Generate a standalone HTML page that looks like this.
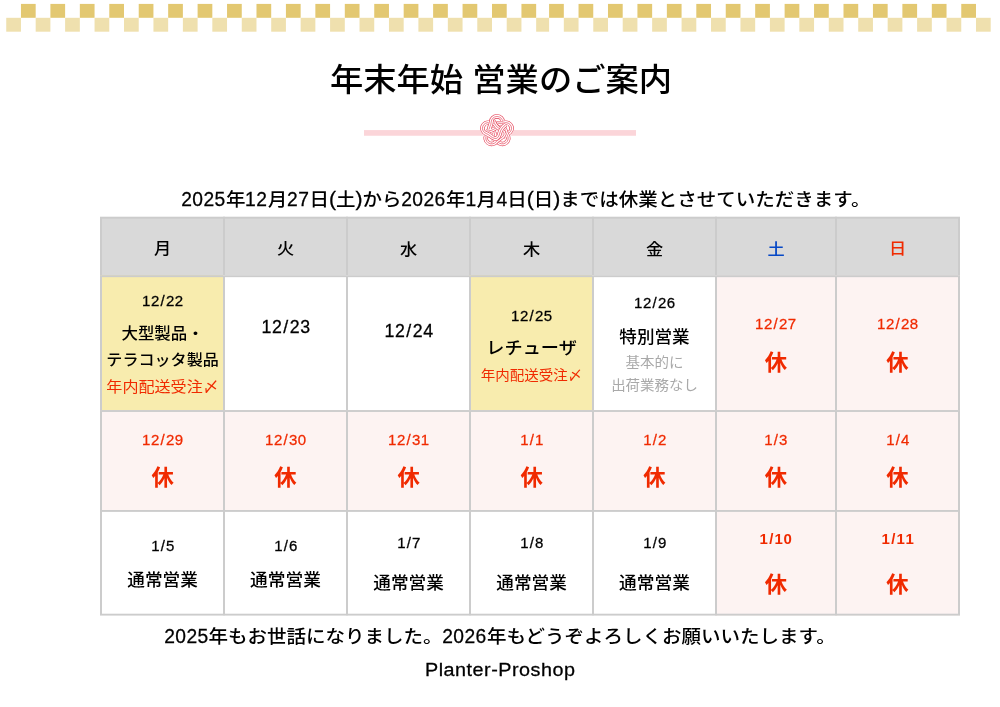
<!DOCTYPE html>
<html lang="ja">
<head>
<meta charset="utf-8">
<title>年末年始 営業のご案内</title>
<style>
html,body{margin:0;padding:0;background:#fff;}
body{width:1000px;height:707px;position:relative;overflow:hidden;font-family:"Liberation Sans", "Noto Sans CJK JP", sans-serif;color:#000;}
#page{position:absolute;left:0;top:0;width:1000px;height:750px;transform-origin:0 0;transform:scaleY(0.9427);}
.checker{position:absolute;left:0;top:0;}
.abs{position:absolute;white-space:nowrap;font-weight:500;line-height:30px;}
.title{left:1px;width:1000px;text-align:center;top:61.53px;font-size:33.3px;line-height:48px;}
.rule{position:absolute;left:364px;top:137.69px;width:272px;height:6px;background:#fbd5d9;}
.knot{position:absolute;left:474.9px;top:116.70px;transform:scaleY(1.03);}
.lead{left:181.5px;top:195.71px;font-size:19.5px;}
.foot1{left:164.1px;top:660.34px;font-size:19.5px;}
.foot2{left:425px;top:694.81px;font-size:19.8px;letter-spacing:0.5px;font-weight:400;-webkit-text-stroke:0.3px #000;}
.nu{display:inline-block;font-size:1.085em;letter-spacing:0.021em;transform:scaleX(0.91);-webkit-text-stroke:0.3px #000;}
.pa{font-size:1.085em;-webkit-text-stroke:0.3px #000;}
.cell{position:absolute;box-sizing:border-box;border:2px solid #cccccc;background:#fff;}
.cell.hd{background:#d9d9d9;}
.cell.yel{background:#f8ecae;}
.cell.pink{background:#fdf3f2;}
.t{position:absolute;left:0;width:100%;text-align:center;white-space:nowrap;font-weight:500;line-height:1.2;}
.sat{color:#0648c6;}
.sun{color:#f02a00;}
.d{font-kerning:none;-webkit-text-stroke:0.3px currentColor;}
.di{display:inline-block;transform:scaleX(0.91);letter-spacing:0.04em;margin-right:-0.04em;}
.s{margin:0 0.04em 0 0.04em;}
.n{font-weight:400;}
.r{font-weight:500;}
.gray{color:#a9a9a9;}
.k{font-weight:700;color:#f02a00;}
.red{color:#f02a00;}
.b{font-weight:700;-webkit-text-stroke:0;}
</style>
</head>
<body>
<div id="page">
<svg class="checker" width="1000" height="40" viewBox="0 0 1000 40"><rect x="6.24" y="18.88" width="14.72" height="14.74" fill="#efe0ae"/><rect x="20.96" y="4.14" width="14.72" height="14.74" fill="#e3c871"/><rect x="35.68" y="18.88" width="14.72" height="14.74" fill="#efe0ae"/><rect x="50.40" y="4.14" width="14.72" height="14.74" fill="#e3c871"/><rect x="65.12" y="18.88" width="14.72" height="14.74" fill="#efe0ae"/><rect x="79.84" y="4.14" width="14.72" height="14.74" fill="#e3c871"/><rect x="94.56" y="18.88" width="14.72" height="14.74" fill="#efe0ae"/><rect x="109.28" y="4.14" width="14.72" height="14.74" fill="#e3c871"/><rect x="124.00" y="18.88" width="14.72" height="14.74" fill="#efe0ae"/><rect x="138.72" y="4.14" width="14.72" height="14.74" fill="#e3c871"/><rect x="153.44" y="18.88" width="14.72" height="14.74" fill="#efe0ae"/><rect x="168.16" y="4.14" width="14.72" height="14.74" fill="#e3c871"/><rect x="182.88" y="18.88" width="14.72" height="14.74" fill="#efe0ae"/><rect x="197.60" y="4.14" width="14.72" height="14.74" fill="#e3c871"/><rect x="212.32" y="18.88" width="14.72" height="14.74" fill="#efe0ae"/><rect x="227.04" y="4.14" width="14.72" height="14.74" fill="#e3c871"/><rect x="241.76" y="18.88" width="14.72" height="14.74" fill="#efe0ae"/><rect x="256.48" y="4.14" width="14.72" height="14.74" fill="#e3c871"/><rect x="271.20" y="18.88" width="14.72" height="14.74" fill="#efe0ae"/><rect x="285.92" y="4.14" width="14.72" height="14.74" fill="#e3c871"/><rect x="300.64" y="18.88" width="14.72" height="14.74" fill="#efe0ae"/><rect x="315.36" y="4.14" width="14.72" height="14.74" fill="#e3c871"/><rect x="330.08" y="18.88" width="14.72" height="14.74" fill="#efe0ae"/><rect x="344.80" y="4.14" width="14.72" height="14.74" fill="#e3c871"/><rect x="359.52" y="18.88" width="14.72" height="14.74" fill="#efe0ae"/><rect x="374.24" y="4.14" width="14.72" height="14.74" fill="#e3c871"/><rect x="388.96" y="18.88" width="14.72" height="14.74" fill="#efe0ae"/><rect x="403.68" y="4.14" width="14.72" height="14.74" fill="#e3c871"/><rect x="418.40" y="18.88" width="14.72" height="14.74" fill="#efe0ae"/><rect x="433.12" y="4.14" width="14.72" height="14.74" fill="#e3c871"/><rect x="447.84" y="18.88" width="14.72" height="14.74" fill="#efe0ae"/><rect x="462.56" y="4.14" width="14.72" height="14.74" fill="#e3c871"/><rect x="477.28" y="18.88" width="14.72" height="14.74" fill="#efe0ae"/><rect x="492.00" y="4.14" width="14.72" height="14.74" fill="#e3c871"/><rect x="506.72" y="18.88" width="14.72" height="14.74" fill="#efe0ae"/><rect x="521.44" y="4.14" width="14.72" height="14.74" fill="#e3c871"/><rect x="536.16" y="18.88" width="12.94" height="14.74" fill="#efe0ae"/><rect x="549.10" y="4.14" width="14.72" height="14.74" fill="#e3c871"/><rect x="563.82" y="18.88" width="14.72" height="14.74" fill="#efe0ae"/><rect x="578.54" y="4.14" width="14.72" height="14.74" fill="#e3c871"/><rect x="593.26" y="18.88" width="14.72" height="14.74" fill="#efe0ae"/><rect x="607.98" y="4.14" width="14.72" height="14.74" fill="#e3c871"/><rect x="622.70" y="18.88" width="14.72" height="14.74" fill="#efe0ae"/><rect x="637.42" y="4.14" width="14.72" height="14.74" fill="#e3c871"/><rect x="652.14" y="18.88" width="14.72" height="14.74" fill="#efe0ae"/><rect x="666.86" y="4.14" width="14.72" height="14.74" fill="#e3c871"/><rect x="681.58" y="18.88" width="14.72" height="14.74" fill="#efe0ae"/><rect x="696.30" y="4.14" width="14.72" height="14.74" fill="#e3c871"/><rect x="711.02" y="18.88" width="14.72" height="14.74" fill="#efe0ae"/><rect x="725.74" y="4.14" width="14.72" height="14.74" fill="#e3c871"/><rect x="740.46" y="18.88" width="14.72" height="14.74" fill="#efe0ae"/><rect x="755.18" y="4.14" width="14.72" height="14.74" fill="#e3c871"/><rect x="769.90" y="18.88" width="14.72" height="14.74" fill="#efe0ae"/><rect x="784.62" y="4.14" width="14.72" height="14.74" fill="#e3c871"/><rect x="799.34" y="18.88" width="14.72" height="14.74" fill="#efe0ae"/><rect x="814.06" y="4.14" width="14.72" height="14.74" fill="#e3c871"/><rect x="828.78" y="18.88" width="14.72" height="14.74" fill="#efe0ae"/><rect x="843.50" y="4.14" width="14.72" height="14.74" fill="#e3c871"/><rect x="858.22" y="18.88" width="14.72" height="14.74" fill="#efe0ae"/><rect x="872.94" y="4.14" width="14.72" height="14.74" fill="#e3c871"/><rect x="887.66" y="18.88" width="14.72" height="14.74" fill="#efe0ae"/><rect x="902.38" y="4.14" width="14.72" height="14.74" fill="#e3c871"/><rect x="917.10" y="18.88" width="14.72" height="14.74" fill="#efe0ae"/><rect x="931.82" y="4.14" width="14.72" height="14.74" fill="#e3c871"/><rect x="946.54" y="18.88" width="14.72" height="14.74" fill="#efe0ae"/><rect x="961.26" y="4.14" width="14.72" height="14.74" fill="#e3c871"/><rect x="975.98" y="18.88" width="14.72" height="14.74" fill="#efe0ae"/></svg>
<div class="abs title">年末年始 営業のご案内</div>
<div class="rule"></div>
<svg class="knot" width="44" height="44" viewBox="-22 -22 44 44"><defs><clipPath id="kc"><rect x="-22" y="-22" width="22" height="20"/></clipPath></defs><g fill="none" stroke-linecap="butt" stroke-linejoin="round"><circle cx="0.00" cy="-9.20" r="8.10" fill="#fff"/><circle cx="8.75" cy="-2.84" r="8.10" fill="#fff"/><circle cx="5.41" cy="7.44" r="8.10" fill="#fff"/><circle cx="-5.41" cy="7.44" r="8.10" fill="#fff"/><circle cx="-8.75" cy="-2.84" r="8.10" fill="#fff"/><circle cx="0" cy="0" r="9.20" fill="#fff"/><g transform="rotate(0)"><path d="M6.3 -5 C6.0 -6.5 5.8 -8 5.8 -9.2 A5.8 5.8 0 0 0 -5.8 -9.2 C-5.8 -6 -8.6 -3 -7.9 0.6 C-7.4 3.2 -4 3.6 -1 3.3 C3 3 6.5 4.5 9 6.4" stroke="#fff" stroke-width="5.2"/><path d="M6.3 -5 C6.0 -6.5 5.8 -8 5.8 -9.2 A5.8 5.8 0 0 0 -5.8 -9.2 C-5.8 -6 -8.6 -3 -7.9 0.6 C-7.4 3.2 -4 3.6 -1 3.3 C3 3 6.5 4.5 9 6.4" stroke="#e43c52" stroke-width="4.6"/><path d="M6.3 -5 C6.0 -6.5 5.8 -8 5.8 -9.2 A5.8 5.8 0 0 0 -5.8 -9.2 C-5.8 -6 -8.6 -3 -7.9 0.6 C-7.4 3.2 -4 3.6 -1 3.3 C3 3 6.5 4.5 9 6.4" stroke="#fff" stroke-width="3.36"/><path d="M6.3 -5 C6.0 -6.5 5.8 -8 5.8 -9.2 A5.8 5.8 0 0 0 -5.8 -9.2 C-5.8 -6 -8.6 -3 -7.9 0.6 C-7.4 3.2 -4 3.6 -1 3.3 C3 3 6.5 4.5 9 6.4" stroke="#e43c52" stroke-width="0.62"/></g><g transform="rotate(72)"><path d="M6.3 -5 C6.0 -6.5 5.8 -8 5.8 -9.2 A5.8 5.8 0 0 0 -5.8 -9.2 C-5.8 -6 -8.6 -3 -7.9 0.6 C-7.4 3.2 -4 3.6 -1 3.3 C3 3 6.5 4.5 9 6.4" stroke="#fff" stroke-width="5.2"/><path d="M6.3 -5 C6.0 -6.5 5.8 -8 5.8 -9.2 A5.8 5.8 0 0 0 -5.8 -9.2 C-5.8 -6 -8.6 -3 -7.9 0.6 C-7.4 3.2 -4 3.6 -1 3.3 C3 3 6.5 4.5 9 6.4" stroke="#e43c52" stroke-width="4.6"/><path d="M6.3 -5 C6.0 -6.5 5.8 -8 5.8 -9.2 A5.8 5.8 0 0 0 -5.8 -9.2 C-5.8 -6 -8.6 -3 -7.9 0.6 C-7.4 3.2 -4 3.6 -1 3.3 C3 3 6.5 4.5 9 6.4" stroke="#fff" stroke-width="3.36"/><path d="M6.3 -5 C6.0 -6.5 5.8 -8 5.8 -9.2 A5.8 5.8 0 0 0 -5.8 -9.2 C-5.8 -6 -8.6 -3 -7.9 0.6 C-7.4 3.2 -4 3.6 -1 3.3 C3 3 6.5 4.5 9 6.4" stroke="#e43c52" stroke-width="0.62"/></g><g transform="rotate(144)"><path d="M6.3 -5 C6.0 -6.5 5.8 -8 5.8 -9.2 A5.8 5.8 0 0 0 -5.8 -9.2 C-5.8 -6 -8.6 -3 -7.9 0.6 C-7.4 3.2 -4 3.6 -1 3.3 C3 3 6.5 4.5 9 6.4" stroke="#fff" stroke-width="5.2"/><path d="M6.3 -5 C6.0 -6.5 5.8 -8 5.8 -9.2 A5.8 5.8 0 0 0 -5.8 -9.2 C-5.8 -6 -8.6 -3 -7.9 0.6 C-7.4 3.2 -4 3.6 -1 3.3 C3 3 6.5 4.5 9 6.4" stroke="#e43c52" stroke-width="4.6"/><path d="M6.3 -5 C6.0 -6.5 5.8 -8 5.8 -9.2 A5.8 5.8 0 0 0 -5.8 -9.2 C-5.8 -6 -8.6 -3 -7.9 0.6 C-7.4 3.2 -4 3.6 -1 3.3 C3 3 6.5 4.5 9 6.4" stroke="#fff" stroke-width="3.36"/><path d="M6.3 -5 C6.0 -6.5 5.8 -8 5.8 -9.2 A5.8 5.8 0 0 0 -5.8 -9.2 C-5.8 -6 -8.6 -3 -7.9 0.6 C-7.4 3.2 -4 3.6 -1 3.3 C3 3 6.5 4.5 9 6.4" stroke="#e43c52" stroke-width="0.62"/></g><g transform="rotate(216)"><path d="M6.3 -5 C6.0 -6.5 5.8 -8 5.8 -9.2 A5.8 5.8 0 0 0 -5.8 -9.2 C-5.8 -6 -8.6 -3 -7.9 0.6 C-7.4 3.2 -4 3.6 -1 3.3 C3 3 6.5 4.5 9 6.4" stroke="#fff" stroke-width="5.2"/><path d="M6.3 -5 C6.0 -6.5 5.8 -8 5.8 -9.2 A5.8 5.8 0 0 0 -5.8 -9.2 C-5.8 -6 -8.6 -3 -7.9 0.6 C-7.4 3.2 -4 3.6 -1 3.3 C3 3 6.5 4.5 9 6.4" stroke="#e43c52" stroke-width="4.6"/><path d="M6.3 -5 C6.0 -6.5 5.8 -8 5.8 -9.2 A5.8 5.8 0 0 0 -5.8 -9.2 C-5.8 -6 -8.6 -3 -7.9 0.6 C-7.4 3.2 -4 3.6 -1 3.3 C3 3 6.5 4.5 9 6.4" stroke="#fff" stroke-width="3.36"/><path d="M6.3 -5 C6.0 -6.5 5.8 -8 5.8 -9.2 A5.8 5.8 0 0 0 -5.8 -9.2 C-5.8 -6 -8.6 -3 -7.9 0.6 C-7.4 3.2 -4 3.6 -1 3.3 C3 3 6.5 4.5 9 6.4" stroke="#e43c52" stroke-width="0.62"/></g><g transform="rotate(288)"><path d="M6.3 -5 C6.0 -6.5 5.8 -8 5.8 -9.2 A5.8 5.8 0 0 0 -5.8 -9.2 C-5.8 -6 -8.6 -3 -7.9 0.6 C-7.4 3.2 -4 3.6 -1 3.3 C3 3 6.5 4.5 9 6.4" stroke="#fff" stroke-width="5.2"/><path d="M6.3 -5 C6.0 -6.5 5.8 -8 5.8 -9.2 A5.8 5.8 0 0 0 -5.8 -9.2 C-5.8 -6 -8.6 -3 -7.9 0.6 C-7.4 3.2 -4 3.6 -1 3.3 C3 3 6.5 4.5 9 6.4" stroke="#e43c52" stroke-width="4.6"/><path d="M6.3 -5 C6.0 -6.5 5.8 -8 5.8 -9.2 A5.8 5.8 0 0 0 -5.8 -9.2 C-5.8 -6 -8.6 -3 -7.9 0.6 C-7.4 3.2 -4 3.6 -1 3.3 C3 3 6.5 4.5 9 6.4" stroke="#fff" stroke-width="3.36"/><path d="M6.3 -5 C6.0 -6.5 5.8 -8 5.8 -9.2 A5.8 5.8 0 0 0 -5.8 -9.2 C-5.8 -6 -8.6 -3 -7.9 0.6 C-7.4 3.2 -4 3.6 -1 3.3 C3 3 6.5 4.5 9 6.4" stroke="#e43c52" stroke-width="0.62"/></g><g clip-path="url(#kc)"><g transform="rotate(0)"><path d="M6.3 -5 C6.0 -6.5 5.8 -8 5.8 -9.2 A5.8 5.8 0 0 0 -5.8 -9.2 C-5.8 -6 -8.6 -3 -7.9 0.6 C-7.4 3.2 -4 3.6 -1 3.3 C3 3 6.5 4.5 9 6.4" stroke="#fff" stroke-width="5.2"/><path d="M6.3 -5 C6.0 -6.5 5.8 -8 5.8 -9.2 A5.8 5.8 0 0 0 -5.8 -9.2 C-5.8 -6 -8.6 -3 -7.9 0.6 C-7.4 3.2 -4 3.6 -1 3.3 C3 3 6.5 4.5 9 6.4" stroke="#e43c52" stroke-width="4.6"/><path d="M6.3 -5 C6.0 -6.5 5.8 -8 5.8 -9.2 A5.8 5.8 0 0 0 -5.8 -9.2 C-5.8 -6 -8.6 -3 -7.9 0.6 C-7.4 3.2 -4 3.6 -1 3.3 C3 3 6.5 4.5 9 6.4" stroke="#fff" stroke-width="3.36"/><path d="M6.3 -5 C6.0 -6.5 5.8 -8 5.8 -9.2 A5.8 5.8 0 0 0 -5.8 -9.2 C-5.8 -6 -8.6 -3 -7.9 0.6 C-7.4 3.2 -4 3.6 -1 3.3 C3 3 6.5 4.5 9 6.4" stroke="#e43c52" stroke-width="0.62"/></g></g></g></svg>
<div class="abs lead"><span class="nu" style="margin:0 -0.104em">2025</span>年<span class="nu" style="margin:0 -0.052em">12</span>月<span class="nu" style="margin:0 -0.052em">27</span>日<span class="pa">(</span>土<span class="pa">)</span>から<span class="nu" style="margin:0 -0.104em">2026</span>年<span class="nu" style="margin:0 -0.026em">1</span>月<span class="nu" style="margin:0 -0.026em">4</span>日<span class="pa">(</span>日<span class="pa">)</span>までは休業とさせていただきます。</div>
<div class="table">
<div class="cell hd" style="left:100.2px;top:230.19px;width:124.8px;height:64.27px"><span id="t0" class="t h" style="top:20.44px;font-size:17.20px">月</span></div>
<div class="cell hd" style="left:223px;top:230.19px;width:125.0px;height:64.27px"><span id="t1" class="t h" style="top:20.44px;font-size:17.20px">火</span></div>
<div class="cell hd" style="left:346px;top:230.19px;width:125.2px;height:64.27px"><span id="t2" class="t h" style="top:22.03px;font-size:17.20px">水</span></div>
<div class="cell hd" style="left:469.2px;top:230.19px;width:124.8px;height:64.27px"><span id="t3" class="t h" style="top:22.03px;font-size:17.20px">木</span></div>
<div class="cell hd" style="left:592px;top:230.19px;width:125.0px;height:64.27px"><span id="t4" class="t h" style="top:22.56px;font-size:17.20px">金</span></div>
<div class="cell hd" style="left:715px;top:230.19px;width:122.0px;height:64.27px"><span id="t5" class="t h sat" style="top:22.03px;font-size:17.20px">土</span></div>
<div class="cell hd" style="left:835px;top:230.19px;width:125.0px;height:64.27px"><span id="t6" class="t h sun" style="top:20.97px;font-size:17.20px">日</span></div>
<div class="cell yel" style="left:100.2px;top:292.46px;width:124.8px;height:144.57px"><span id="t7" class="t d" style="top:15.46px;font-size:16.49px"><span class="di">12<span class="s">/</span>22</span></span><span id="t8" class="t m" style="top:50.20px;font-size:16.47px">大型製品・</span><span id="t9" class="t m" style="top:77.97px;font-size:16.08px">テラコッタ製品</span><span id="t10" class="t n red" style="top:106.94px;font-size:16.08px">年内配送受注〆</span></div>
<div class="cell " style="left:223px;top:292.46px;width:125.0px;height:144.57px"><span id="t11" class="t d" style="top:40.58px;font-size:19.53px"><span class="di">12<span class="s">/</span>23</span></span></div>
<div class="cell " style="left:346px;top:292.46px;width:125.2px;height:144.57px"><span id="t12" class="t d" style="top:45.88px;font-size:19.53px"><span class="di">12<span class="s">/</span>24</span></span></div>
<div class="cell yel" style="left:469.2px;top:292.46px;width:124.8px;height:144.57px"><span id="t13" class="t d" style="top:32.01px;font-size:16.49px"><span class="di">12<span class="s">/</span>25</span></span><span id="t14" class="t m" style="top:66.03px;font-size:18.18px">レチューザ</span><span id="t15" class="t n red" style="top:95.80px;font-size:14.51px">年内配送受注〆</span></div>
<div class="cell " style="left:592px;top:292.46px;width:125.0px;height:144.57px"><span id="t16" class="t d" style="top:17.37px;font-size:16.49px"><span class="di">12<span class="s">/</span>26</span></span><span id="t17" class="t m" style="top:53.73px;font-size:17.58px">特別営業</span><span id="t18" class="t n gray" style="top:81.59px;font-size:14.51px">基本的に</span><span id="t19" class="t n gray" style="top:106.89px;font-size:14.46px">出荷業務なし</span></div>
<div class="cell pink" style="left:715px;top:292.46px;width:122.0px;height:144.57px"><span id="t20" class="t d red" style="top:39.22px;font-size:16.49px"><span class="di">12<span class="s">/</span>27</span></span><span id="t21" class="t k" style="top:77.97px;font-size:22.40px">休</span></div>
<div class="cell pink" style="left:835px;top:292.46px;width:125.0px;height:144.57px"><span id="t22" class="t d red" style="top:39.22px;font-size:16.49px"><span class="di">12<span class="s">/</span>28</span></span><span id="t23" class="t k" style="top:77.18px;font-size:22.40px">休</span></div>
<div class="cell pink" style="left:100.2px;top:435.03px;width:124.8px;height:108.08px"><span id="t24" class="t d red" style="top:19.70px;font-size:16.49px"><span class="di">12<span class="s">/</span>29</span></span><span id="t25" class="t k" style="top:57.66px;font-size:22.40px">休</span></div>
<div class="cell pink" style="left:223px;top:435.03px;width:125.0px;height:108.08px"><span id="t26" class="t d red" style="top:19.70px;font-size:16.49px"><span class="di">12<span class="s">/</span>30</span></span><span id="t27" class="t k" style="top:57.66px;font-size:22.40px">休</span></div>
<div class="cell pink" style="left:346px;top:435.03px;width:125.2px;height:108.08px"><span id="t28" class="t d red" style="top:19.70px;font-size:16.49px"><span class="di">12<span class="s">/</span>31</span></span><span id="t29" class="t k" style="top:57.66px;font-size:22.40px">休</span></div>
<div class="cell pink" style="left:469.2px;top:435.03px;width:124.8px;height:108.08px"><span id="t30" class="t d red" style="top:19.70px;font-size:16.49px"><span class="di">1<span class="s">/</span>1</span></span><span id="t31" class="t k" style="top:57.66px;font-size:22.40px">休</span></div>
<div class="cell pink" style="left:592px;top:435.03px;width:125.0px;height:108.08px"><span id="t32" class="t d red" style="top:19.70px;font-size:16.49px"><span class="di">1<span class="s">/</span>2</span></span><span id="t33" class="t k" style="top:57.66px;font-size:22.40px">休</span></div>
<div class="cell pink" style="left:715px;top:435.03px;width:122.0px;height:108.08px"><span id="t34" class="t d red" style="top:19.70px;font-size:16.49px"><span class="di">1<span class="s">/</span>3</span></span><span id="t35" class="t k" style="top:57.39px;font-size:22.40px">休</span></div>
<div class="cell pink" style="left:835px;top:435.03px;width:125.0px;height:108.08px"><span id="t36" class="t d red" style="top:19.70px;font-size:16.49px"><span class="di">1<span class="s">/</span>4</span></span><span id="t37" class="t k" style="top:57.66px;font-size:22.40px">休</span></div>
<div class="cell " style="left:100.2px;top:541.11px;width:124.8px;height:112.00px"><span id="t38" class="t d" style="top:27.13px;font-size:16.49px"><span class="di">1<span class="s">/</span>5</span></span><span id="t39" class="t r" style="top:63.38px;font-size:17.64px">通常営業</span></div>
<div class="cell " style="left:223px;top:541.11px;width:125.0px;height:112.00px"><span id="t40" class="t d" style="top:27.13px;font-size:16.49px"><span class="di">1<span class="s">/</span>6</span></span><span id="t41" class="t r" style="top:63.38px;font-size:17.71px">通常営業</span></div>
<div class="cell " style="left:346px;top:541.11px;width:125.2px;height:112.00px"><span id="t42" class="t d" style="top:22.88px;font-size:16.49px"><span class="di">1<span class="s">/</span>7</span></span><span id="t43" class="t r" style="top:66.30px;font-size:17.64px">通常営業</span></div>
<div class="cell " style="left:469.2px;top:541.11px;width:124.8px;height:112.00px"><span id="t44" class="t d" style="top:22.88px;font-size:16.49px"><span class="di">1<span class="s">/</span>8</span></span><span id="t45" class="t r" style="top:66.30px;font-size:17.64px">通常営業</span></div>
<div class="cell " style="left:592px;top:541.11px;width:125.0px;height:112.00px"><span id="t46" class="t d" style="top:22.88px;font-size:16.49px"><span class="di">1<span class="s">/</span>9</span></span><span id="t47" class="t r" style="top:66.30px;font-size:17.71px">通常営業</span></div>
<div class="cell pink" style="left:715px;top:541.11px;width:122.0px;height:112.00px"><span id="t48" class="t d red b" style="top:19.17px;font-size:16.49px"><span class="di">1<span class="s">/</span>10</span></span><span id="t49" class="t k" style="top:64.82px;font-size:22.40px">休</span></div>
<div class="cell pink" style="left:835px;top:541.11px;width:125.0px;height:112.00px"><span id="t50" class="t d red b" style="top:19.17px;font-size:16.49px"><span class="di">1<span class="s">/</span>11</span></span><span id="t51" class="t k" style="top:65.08px;font-size:22.40px">休</span></div>
</div>
<div class="abs foot1"><span class="nu" style="margin:0 -0.104em">2025</span>年もお世話になりました。<span class="nu" style="margin:0 -0.104em">2026</span>年もどうぞよろしくお願いいたします。</div>
<div class="abs foot2">Planter-Proshop</div>
</div>
</body>
</html>
